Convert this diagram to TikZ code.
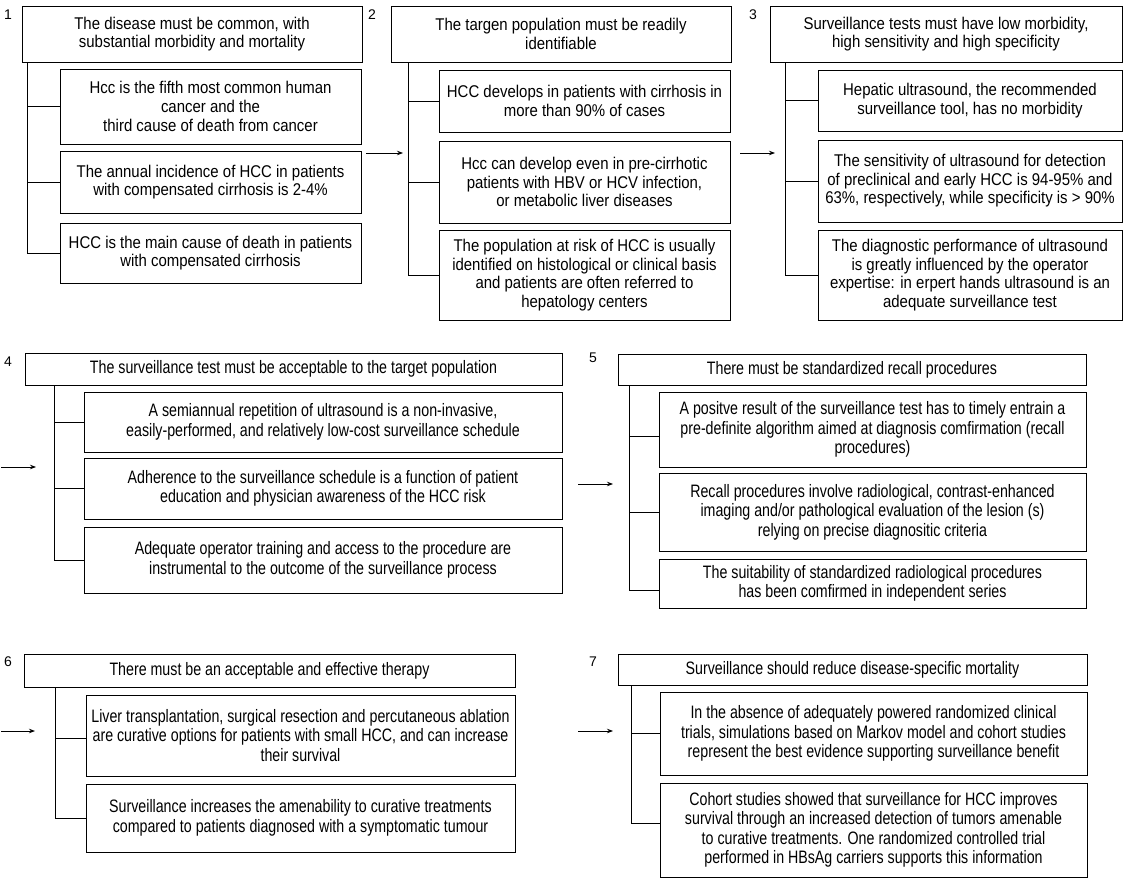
\documentclass[tikz,border=0pt]{standalone}
\usepackage{fontspec}
\setmainfont{Liberation Sans}[FakeStretch=0.88]
\newfontfamily\narrowfont{Liberation Sans}[FakeStretch=0.79]
\newfontfamily\numfont{Liberation Sans}
\usetikzlibrary{arrows.meta,calc}
\tikzset{
  bx/.style={draw, line width=0.9pt, align=center, inner sep=0pt,
    font=\fontsize{17}{18.6}\selectfont},
  bxn/.style={bx, font=\narrowfont\fontsize{18}{19.5}\selectfont},
  ln/.style={line width=0.9pt},
  arr/.style={line width=0.9pt, -{Stealth[length=6pt,width=4.5pt]}},
  lbl/.style={font=\numfont\fontsize{14}{16}\selectfont, inner sep=0pt}
}
\newcommand\mybox[7][bx]{%
  \node[#1, minimum width={#5pt-#3pt}, minimum height={#6pt-#4pt}] (#2)
    at ({(#3+#5)/2},{(#4+#6)/2}) {#7};}
\begin{document}
\begin{tikzpicture}[x=1pt,y=-1pt]
\useasboundingbox[fill=white] (0,0) rectangle (1129,893);

% ---------- Row 1 ----------
\node[lbl] (n1) at (8,15) {1};
\node[lbl] (n2) at (372,15) {2};
\node[lbl] (n3) at (753,15) {3};

\mybox{h1}{22}{6}{362}{62}{The disease must be common, with\\substantial morbidity and mortality}
\mybox{c11}{60}{69}{361}{144}{Hcc is the fifth most common human\\cancer and the\\third cause of death from cancer}
\mybox{c12}{60}{151}{361}{213}{The annual incidence of HCC in patients\\with compensated cirrhosis is 2-4\%}
\mybox{c13}{60}{223}{361}{283}{HCC is the main cause of death in patients\\with compensated cirrhosis}

\mybox{h2}{391}{6}{731}{62}{The targen population must be readily\\identifiable}
\mybox{c21}{439}{70}{730}{132}{HCC develops in patients with cirrhosis in\\more than 90\% of cases}
\mybox{c22}{439}{141}{730}{223}{Hcc can develop even in pre-cirrhotic\\patients with HBV or HCV infection,\\or metabolic liver diseases}
\mybox{c23}{439}{230}{730}{320}{The population at risk of HCC is usually\\identified on histological or clinical basis\\and patients are often referred to\\hepatology centers}

\mybox{h3}{770}{6}{1122}{62}{Surveillance tests must have low morbidity,\\high sensitivity and high specificity}
\mybox{c31}{818}{70}{1122}{131}{Hepatic ultrasound, the recommended\\surveillance tool, has no morbidity}
\mybox{c32}{818}{140}{1122}{222}{The sensitivity of ultrasound for detection\\of preclinical and early HCC is 94-95\% and\\63\%, respectively, while specificity is > 90\%}
\mybox{c33}{818}{230}{1122}{320}{The diagnostic performance of ultrasound\\is greatly influenced by the operator\\expertise: in erpert hands ultrasound is an\\adequate surveillance test}

\coordinate (t1) at (27,0);
\coordinate (t2) at (408,0);
\coordinate (t3) at (785,0);
\draw[ln] (t1 |- h1.south) -- (t1 |- c13.west) -- (c13.west);
\draw[ln] (t1 |- c11.west) -- (c11.west);
\draw[ln] (t1 |- c12.west) -- (c12.west);
\draw[ln] (t2 |- h2.south) -- (t2 |- c23.west) -- (c23.west);
\draw[ln] (t2 |- c21.west) -- (c21.west);
\draw[ln] (t2 |- c22.west) -- (c22.west);
\draw[ln] (t3 |- h3.south) -- (t3 |- c33.west) -- (c33.west);
\draw[ln] (t3 |- c31.west) -- (c31.west);
\draw[ln] (t3 |- c32.west) -- (c32.west);

\coordinate (a2s) at (366,153); \coordinate (a2e) at (403,153);
\coordinate (a3s) at (740,153); \coordinate (a3e) at (775,153);
\draw[arr] (a2s) -- (a2e);
\draw[arr] (a3s) -- (a3e);

% ---------- Row 2 ----------
\node[lbl] (n4) at (8,362) {4};
\node[lbl] (n5) at (593,358) {5};

\mybox[bxn]{h4}{25}{353}{562}{385}{The surveillance test must be acceptable to the target population}
\mybox[bxn]{c41}{84}{392}{562}{452}{A semiannual repetition of ultrasound is a non-invasive,\\easily-performed, and relatively low-cost surveillance schedule}
\mybox[bxn]{c42}{84}{458}{562}{519}{Adherence to the surveillance schedule is a function of patient\\education and physician awareness of the HCC risk}
\mybox[bxn]{c43}{84}{527}{562}{593}{Adequate operator training and access to the procedure are\\instrumental to the outcome of the surveillance process}

\mybox[bxn]{h5}{618}{354}{1086}{385}{There must be standardized recall procedures}
\mybox[bxn]{c51}{659}{392}{1086}{467}{A positve result of the surveillance test has to timely entrain a\\pre-definite algorithm aimed at diagnosis comfirmation (recall\\procedures)}
\mybox[bxn]{c52}{659}{473}{1086}{551}{Recall procedures involve radiological, contrast-enhanced\\imaging and/or pathological evaluation of the lesion (s)\\relying on precise diagnositic criteria}
\mybox[bxn]{c53}{659}{559}{1086}{608}{The suitability of standardized radiological procedures\\has been comfirmed in independent series}

\coordinate (t4) at (54,0);
\coordinate (t5) at (629,0);
\draw[ln] (t4 |- h4.south) -- (t4 |- c43.west) -- (c43.west);
\draw[ln] (t4 |- c41.west) -- (c41.west);
\draw[ln] (t4 |- c42.west) -- (c42.west);
\coordinate (b51) at ($(c51.west)+(0,7)$);
\coordinate (b53) at ($(c53.west)+(0,7)$);
\draw[ln] (t5 |- h5.south) -- (t5 |- b53) -- (b53);
\draw[ln] (t5 |- b51) -- (b51);
\draw[ln] (t5 |- c52.west) -- (c52.west);

\coordinate (a4s) at (1,467); \coordinate (a4e) at (36,467);
\coordinate (a5s) at (578,484); \coordinate (a5e) at (613,484);
\draw[arr] (a4s) -- (a4e);
\draw[arr] (a5s) -- (a5e);

% ---------- Row 3 ----------
\node[lbl] (n6) at (8,662) {6};
\node[lbl] (n7) at (593,662) {7};

\mybox[bxn]{h6}{24}{654}{515}{687}{There must be an acceptable and effective therapy}
\mybox[bxn]{c61}{86}{695}{515}{776}{Liver transplantation, surgical resection and percutaneous ablation\\are curative options for patients with small HCC, and can increase\\their survival}
\mybox[bxn]{c62}{86}{784}{515}{852}{Surveillance increases the amenability to curative treatments\\compared to patients diagnosed with a symptomatic tumour}

\mybox[bxn]{h7}{618}{654}{1087}{685}{Surveillance should reduce disease-specific mortality}
\mybox[bxn]{c71}{660}{692}{1087}{775}{In the absence of adequately powered randomized clinical\\trials, simulations based on Markov model and cohort studies\\represent the best evidence supporting surveillance benefit}
\mybox[bxn]{c72}{660}{783}{1087}{877}{Cohort studies showed that surveillance for HCC improves\\survival through an increased detection of tumors amenable\\to curative treatments. One randomized controlled trial\\performed in HBsAg carriers supports this information}

\coordinate (t6) at (55,0);
\coordinate (t7) at (631,0);
\coordinate (b61) at ($(c61.west)+(0,3)$);
\coordinate (b72) at ($(c72.west)+(0,-7)$);
\draw[ln] (t6 |- h6.south) -- (t6 |- c62.west) -- (c62.west);
\draw[ln] (t6 |- b61) -- (b61);
\draw[ln] (t7 |- h7.south) -- (t7 |- b72) -- (b72);
\draw[ln] (t7 |- c71.west) -- (c71.west);

\coordinate (a6s) at (1,731); \coordinate (a6e) at (35,731);
\coordinate (a7s) at (578,731); \coordinate (a7e) at (613,731);
\draw[arr] (a6s) -- (a6e);
\draw[arr] (a7s) -- (a7e);
\end{tikzpicture}
\end{document}
